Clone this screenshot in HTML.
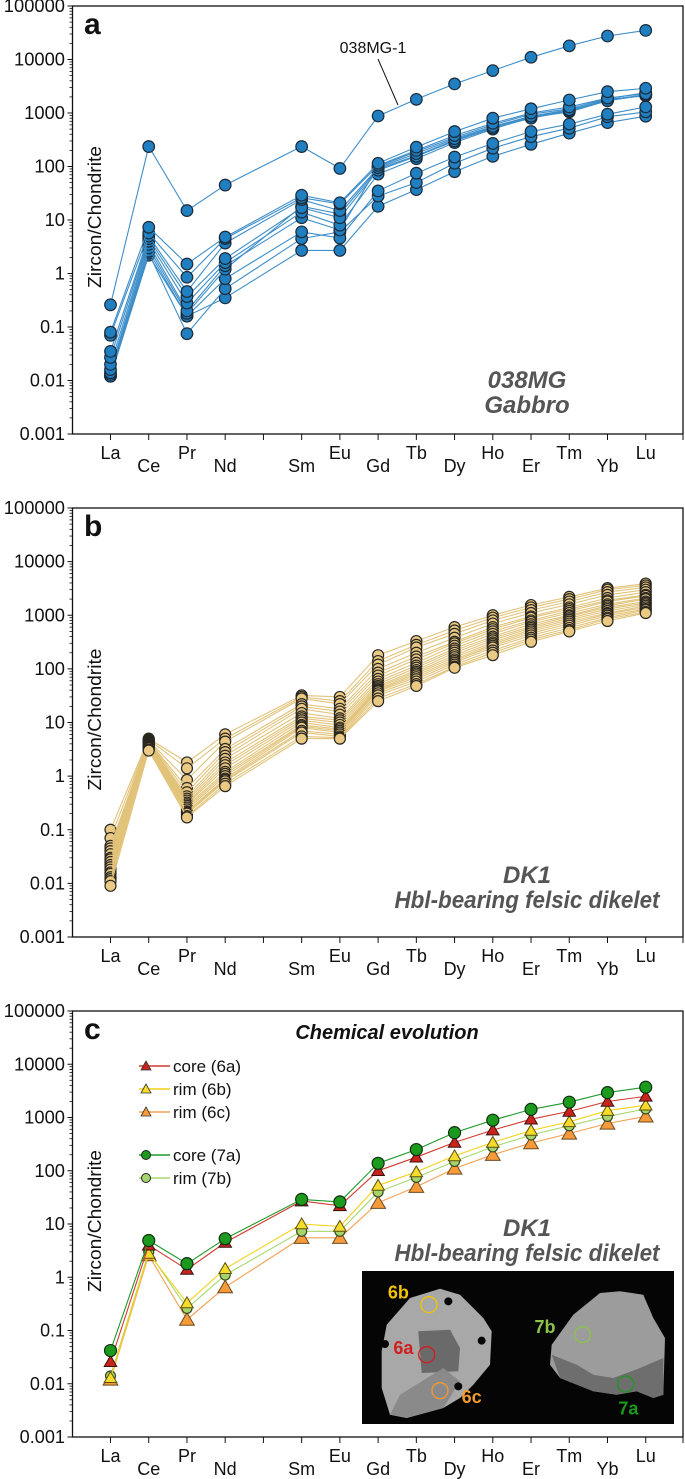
<!DOCTYPE html>
<html><head><meta charset="utf-8"><style>
html,body{margin:0;padding:0;background:#fff;}
svg{display:block;font-family:"Liberation Sans",sans-serif;}
</style></head><body>
<svg id="chart" width="685" height="1479" viewBox="0 0 685 1479" xmlns="http://www.w3.org/2000/svg"></svg>
<script>
const elements = ["La","Ce","Pr","Nd","Sm","Eu","Gd","Tb","Dy","Ho","Er","Tm","Yb","Lu"];
const elementIndex = [0,1,2,3,5,6,7,8,9,10,11,12,13,14];
const yTickLabels = ["100000","10000","1000","100","10","1","0.1","0.01","0.001"];
const yTickValues = [100000,10000,1000,100,10,1,0.1,0.01,0.001];

// Panel a: 038MG gabbro
const seriesA038MG1 = [0.26,236,15,45,236,92,880,1800,3500,6200,11000,18000,27500,35000];
const seriesA1 = [0.08,7.3,1.5,4.8,29,21,115,230,450,800,1200,1750,2500,2900];
const seriesA2 = [0.07,5.7,0.85,4.5,26,20,105,200,380,640,1000,1300,1900,2300];
const seriesA3 = [0.035,5.0,0.46,3.7,24,15,95,175,330,560,870,1150,1700,2200];
const seriesA4 = [0.027,4.5,0.37,1.9,17,11,85,155,300,520,800,1100,1800,2100];
const seriesA5 = [0.02,4.0,0.28,1.6,14,8,72,140,280,500,830,1050,1700,2150];
const seriesA6 = [0.016,3.5,0.2,1.4,11,6.5,100,190,350,600,950,1200,1850,2400];
const seriesA7 = [0.014,3.0,0.18,1.2,18,13,90,160,310,540,850,1100,1750,2200];
const seriesA8 = [0.013,2.6,0.16,0.8,6,4.6,35,75,150,270,450,620,950,1300];
const seriesA9 = [0.012,2.4,0.075,0.52,4.5,6.0,28,50,115,220,360,520,850,1050];
const seriesA10 = [0.012,2.2,0.16,0.35,2.7,2.7,18,37,80,155,260,420,660,870];

// Panel b: DK1
const seriesB1 = [0.1,5,1.8,6,32,30,180,330,600,1000,1550,2200,3200,3900];
const seriesB2 = [0.07,4.8,1.4,5,30,25,140,280,520,900,1400,2000,3000,3600];
const seriesB3 = [0.05,4.6,0.85,4.4,28,22,120,250,450,800,1250,1800,2700,3300];
const seriesB4 = [0.045,4.5,0.6,3.2,22,18,100,200,380,700,1100,1600,2400,3000];
const seriesB5 = [0.04,4.4,0.5,2.8,20,16,85,170,320,600,950,1400,2100,2700];
const seriesB6 = [0.035,4.3,0.42,2.4,18,14,75,150,300,550,900,1300,1900,2400];
const seriesB7 = [0.03,4.2,0.38,2.1,15,12,65,130,270,500,800,1200,1800,2300];
const seriesB8 = [0.028,4.1,0.35,1.8,13,11,58,115,240,450,750,1100,1600,2100];
const seriesB9 = [0.025,4.0,0.32,1.6,12,10,52,105,220,400,680,1000,1500,2000];
const seriesB10 = [0.022,3.9,0.3,1.4,11,9,48,95,200,370,620,950,1400,1800];
const seriesB11 = [0.02,3.8,0.28,1.2,10,8,45,88,180,340,580,880,1300,1700];
const seriesB12 = [0.018,3.7,0.26,1.1,9,7.5,42,82,165,310,540,820,1200,1600];
const seriesB13 = [0.016,3.6,0.24,1.0,8.5,7,40,76,150,290,500,760,1100,1500];
const seriesB14 = [0.015,3.5,0.22,0.9,8,6.5,38,70,140,270,460,700,1050,1400];
const seriesB15 = [0.013,3.4,0.21,0.85,7,6,35,64,130,250,420,640,980,1300];
const seriesB16 = [0.012,3.3,0.2,0.8,6.5,5.5,32,58,120,220,380,580,900,1250];
const seriesB17 = [0.011,3.1,0.18,0.72,5.5,5.2,28,52,110,200,350,530,850,1150];
const seriesB18 = [0.009,3.0,0.17,0.65,5,5,25,48,105,180,320,500,780,1100];

// Panel c: chemical evolution
const core6a = [0.026,4.0,1.4,4.5,27,22,100,180,340,580,930,1300,2000,2500];
const rim6b = [0.013,2.8,0.33,1.45,10,9,53,95,190,340,570,830,1350,1700];
const rim6c = [0.012,2.6,0.16,0.65,5.5,5.5,25,50,110,200,330,500,770,1050];
const core7a = [0.042,4.9,1.8,5.3,29,26,138,250,520,890,1420,1940,2930,3700];
const rim7b = [0.014,3.0,0.26,1.1,7.3,7.3,40,75,150,280,470,700,1050,1450];

const NS="http://www.w3.org/2000/svg";
const svg=document.getElementById('chart');
function mk(tag,attrs,parent){const e=document.createElementNS(NS,tag);for(const k in attrs)e.setAttribute(k,attrs[k]);(parent||svg).appendChild(e);return e;}
const X0=72.5, XR=683;
function xPos(i){return 110.5+elementIndex[i]*38.23;}
function makeY(top,bot){return v=>top+(5-Math.log10(v))*(bot-top)/8;}

function axes(g,top,bot,letter,name){
  const y=makeY(top,bot);
  const fr=mk('rect',{x:X0,y:top,width:XR-X0,height:bot-top,fill:'none',stroke:'#111','stroke-width':1.3},g);
  
  const ya=mk('g',{},g);
  yTickValues.forEach((v,k)=>{
    const yy=y(v);
    mk('line',{x1:X0-5,x2:X0,y1:yy,y2:yy,stroke:'#111','stroke-width':1},ya);
    const lab=yTickLabels[k];
    const dots=(lab.match(/\./g)||[]).length;
    const w=(lab.length-dots)*10.2+dots*4.5;
    const t=mk('text',{x:65,y:yy+6,'text-anchor':'end','font-size':18,fill:'#111','textLength':w,'lengthAdjust':'spacingAndGlyphs'},ya);
    t.textContent=lab;
    
    if(k<yTickValues.length-1){for(let m=2;m<10;m++){const ym=y(v/10*m);mk('line',{x1:X0-3,x2:X0,y1:ym,y2:ym,stroke:'#111','stroke-width':0.8},ya);}}
  });
  const xa=mk('g',{},g);
  for(let i=0;i<=15;i++){const xx=110.5+i*38.23;const x2=i==15?XR:xx;mk('line',{x1:x2,x2:x2,y1:bot,y2:bot+6,stroke:'#111','stroke-width':1},xa);}
  elements.forEach((el,i)=>{
    const odd=elementIndex[i]%2===1;
    const t=mk('text',{x:xPos(i),y:bot+(odd?38:25),'text-anchor':'middle','font-size':18,fill:'#111'},xa);
    t.textContent=el;
  });
  const yl=mk('text',{x:0,y:0,transform:`translate(101,${(top+bot)/2-3}) rotate(-90)`,'text-anchor':'middle','font-size':18,fill:'#111','textLength':142,'lengthAdjust':'spacingAndGlyphs'},g);
  yl.textContent='Zircon/Chondrite';
  const pl=mk('text',{x:84,y:top+28,'font-size':30,'font-weight':'bold',fill:'#111'},g);
  pl.textContent=letter;
  return y;
}
function drawSeries(g,y,vals,line,fill,stroke,r,sname){
  const s=mk('g',{},g);
  const pts=vals.map((v,i)=>xPos(i).toFixed(1)+','+y(v).toFixed(1)).join(' ');
  mk('polyline',{points:pts,fill:'none',stroke:line,'stroke-width':1.1},s);
  return s;
}
function drawCircles(s,y,vals,fill,stroke,r){
  vals.forEach((v,i)=>{const c=mk('circle',{cx:xPos(i),cy:y(v),r:r,fill:fill,stroke:stroke,'stroke-width':1.2},s);
    });
}
function drawTris(s,y,vals,fill,stroke,sz){
  vals.forEach((v,i)=>{const cx=xPos(i),cy=y(v);
    const p=mk('polygon',{points:`${cx},${cy-sz} ${cx-sz*1.05},${cy+sz*0.8} ${cx+sz*1.05},${cy+sz*0.8}`,fill:fill,stroke:stroke,'stroke-width':1},s);
    });
}
function label2(g,l1,l2,cy,name,w2){
  const t=mk('text',{x:527,y:cy,'text-anchor':'middle','font-size':24,'font-weight':'bold','font-style':'italic',fill:'#555'},g);
  t.textContent=l1;
  const a={x:527,y:cy+25,'text-anchor':'middle','font-size':24,'font-weight':'bold','font-style':'italic',fill:'#555'};
  if(w2){a.textLength=w2;a.lengthAdjust='spacingAndGlyphs';}
  const t2=mk('text',a,g);
  t2.textContent=l2;
}

// Panel A
const gA=mk('g',{});
const yA=axes(gA,6,434,'a','panel-a');
const listA=[seriesA10,seriesA9,seriesA8,seriesA7,seriesA6,seriesA5,seriesA4,seriesA3,seriesA2,seriesA1,seriesA038MG1];
const sgA=listA.map((vals,k)=>drawSeries(gA,yA,vals,'#3d8ec9','#1f7fc0','#1d2b3a',5.5,'series-a-'+(k+1)));
listA.forEach((vals,k)=>drawCircles(sgA[k],yA,vals,'#1f7fc0','#1d2b3a',5.8));
const ann=mk('line',{x1:378,y1:59,x2:398,y2:105,stroke:'#111','stroke-width':1},gA);

const annT=mk('text',{x:373,y:53,'text-anchor':'middle','font-size':16,fill:'#111'},gA);
annT.textContent='038MG-1';
label2(gA,'038MG','Gabbro',388,'panel-a',0);

// Panel B
const gB=mk('g',{});
const yB=axes(gB,508,937,'b','panel-b');
const listB=[seriesB1,seriesB2,seriesB3,seriesB4,seriesB5,seriesB6,seriesB7,seriesB8,seriesB9,seriesB10,seriesB11,seriesB12,seriesB13,seriesB14,seriesB15,seriesB16,seriesB17,seriesB18];
const sgB=listB.map((vals,k)=>drawSeries(gB,yB,vals,'#e2c37a','#e8c880','#2a2620',5.5,'series-b-'+(k+1)));
listB.forEach((vals,k)=>drawCircles(sgB[k],yB,vals,'#e9c983','#2a2620',5.5));
label2(gB,'DK1','Hbl-bearing felsic dikelet',883,'panel-b',265);

// Panel C
const gC=mk('g',{});
const yC=axes(gC,1011,1437,'c','panel-c');
const ce=mk('text',{x:387,y:1039,'text-anchor':'middle','font-size':20,'font-weight':'bold','font-style':'italic',fill:'#111'},gC);
ce.textContent='Chemical evolution';
label2(gC,'DK1','Hbl-bearing felsic dikelet',1236,'panel-c',265);
const s6c=drawSeries(gC,yC,rim6c,'#f5a050',0,0,0,'series-rim-6c');drawTris(s6c,yC,rim6c,'#f79a3a','#6b4a20',7);
const s7b=drawSeries(gC,yC,rim7b,'#a6d86e',0,0,0,'series-rim-7b');
const s6b=drawSeries(gC,yC,rim6b,'#f2d21a',0,0,0,'series-rim-6b');drawTris(s6b,yC,rim6b,'#f6dc2a','#5a5010',6);
drawCircles(s7b,yC,rim7b,'#a7d46a','#3a4a20',5);
const s6a=drawSeries(gC,yC,core6a,'#d23a30',0,0,0,'series-core-6a');drawTris(s6a,yC,core6a,'#c8241c','#3a1010',6);
const s7a=drawSeries(gC,yC,core7a,'#1f9a2a',0,0,0,'series-core-7a');drawCircles(s7a,yC,core7a,'#1b9a1e','#103010',6);

// legend
const leg=mk('g',{});
const legLabels=['core (6a)','rim (6b)','rim (6c)','core (7a)','rim (7b)'];
const legY=[1066,1089,1112,1155,1178];
const legLine=['#d23a30','#f2d21a','#f5a050','#1f9a2a','#a6d86e'];
const legFill=['#c8241c','#f6dc2a','#f79a3a','#1b9a1e','#a7d46a'];
legLabels.forEach((lab,k)=>{
  const e=mk('g',{},leg);
  const yy=legY[k];
  mk('line',{x1:139,x2:170,y1:yy,y2:yy,stroke:legLine[k],'stroke-width':1.5},e);
  if(k<3) mk('polygon',{points:`146,${yy-5} 141,${yy+4} 151,${yy+4}`,fill:legFill[k],stroke:'#333','stroke-width':0.8},e);
  else mk('circle',{cx:146,cy:yy,r:4.5,fill:legFill[k],stroke:'#222','stroke-width':1},e);
  const t=mk('text',{x:173,y:yy+6,'font-size':17,fill:'#111'},e);t.textContent=lab;
});

// inset image
const ins=mk('g',{});
mk('rect',{x:362,y:1271,width:312,height:153,fill:'#050505'},ins);
function zp(arr){return arr.map(p=>(360+p[0]/3).toFixed(1)+','+(1268+p[1]/3).toFixed(1)).join(' ');}
mk('polygon',{points:zp([[80,170],[150,90],[240,62],[300,80],[370,150],[395,190],[390,290],[340,350],[300,390],[250,420],[140,450],[90,440],[65,360],[65,250]]),fill:'#a8a8a8'},ins);
mk('polygon',{points:zp([[175,190],[270,185],[300,240],[295,310],[185,315]]),fill:'#6a6a6a'},ins);
mk('polygon',{points:zp([[120,380],[250,300],[300,340],[250,420],[140,450],[90,440]]),fill:'#8a8a8a'},ins);
mk('polygon',{points:zp([[575,230],[640,140],[720,75],[780,70],[850,80],[880,150],[915,210],[910,380],[880,390],[830,370],[770,380],[700,370],[600,330],[570,290]]),fill:'#9c9c9c'},ins);
mk('polygon',{points:zp([[575,260],[650,290],[700,320],[760,330],[840,300],[910,270],[910,380],[880,390],[830,370],[770,380],[700,370],[600,330]]),fill:'#6e6e6e'},ins);
[[265,100],[365,218],[75,228],[295,355]].forEach(p=>mk('circle',{cx:360+p[0]/3,cy:1268+p[1]/3,r:4,fill:'#050505'},ins));
const spots=[['6b',207,110,'#f2c400',115,92],['6a',200,260,'#d21e1e',130,258],['6c',240,368,'#f39a2e',335,405],['7b',668,200,'#8cc34a',555,195],['7a',797,348,'#1a9a1a',805,440]];
spots.forEach(s=>{
  const c=mk('circle',{cx:360+s[1]/3,cy:1268+s[2]/3,r:8,fill:'none',stroke:s[3],'stroke-width':1.3},ins);
  
  const t=mk('text',{x:360+s[4]/3,y:1268+s[5]/3,'text-anchor':'middle','font-size':18,'font-weight':'bold',fill:s[3]},ins);
  t.textContent=s[0];
});
</script>
</body></html>
